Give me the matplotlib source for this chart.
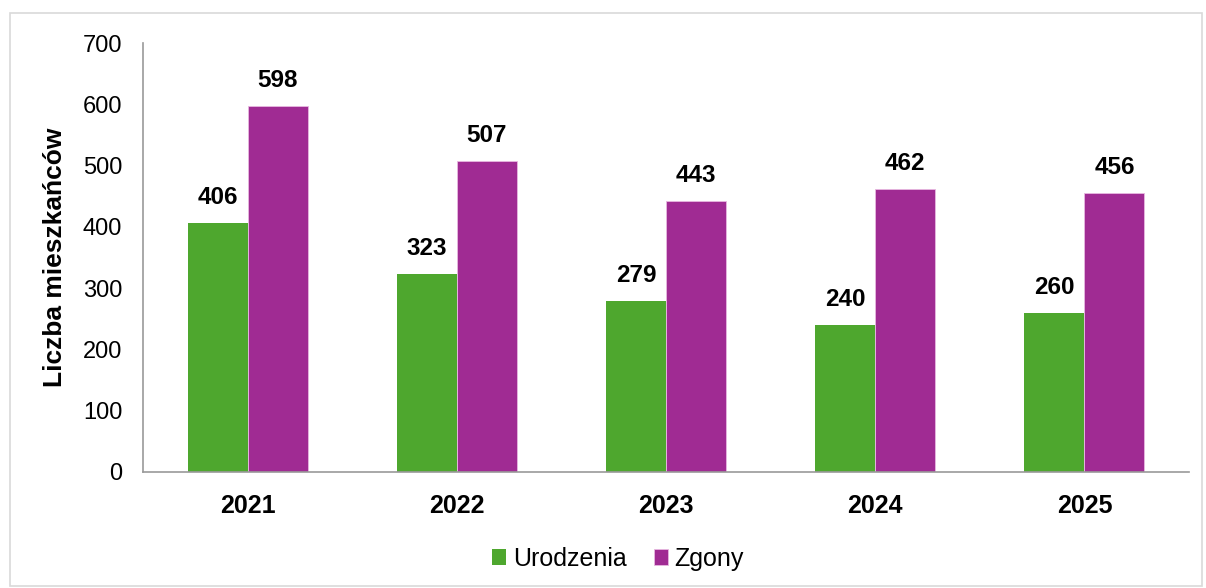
import numpy as np
import matplotlib.pyplot as plt
from matplotlib.patches import Rectangle

plt.rcParams['font.family'] = ['Liberation Sans', 'DejaVu Sans']

years = ['2021', '2022', '2023', '2024', '2025']
urodzenia = [406, 323, 279, 240, 260]
zgony = [598, 507, 443, 462, 456]

green = '#4EA72E'
purple = '#A02B93'

fig = plt.figure(figsize=(12.06, 5.88), dpi=100)
ax = fig.add_axes([143/1206, 1-472/588, 1046/1206, 429/588])

x = np.arange(len(years))
w = 0.287
b1 = ax.bar(x - w/2, urodzenia, w, color=green, label='Urodzenia')
b2 = ax.bar(x + w/2, zgony, w, color=purple, edgecolor='#E8B8E0', linewidth=0.6, label='Zgony')

for bars in (b1, b2):
    for r in bars:
        ax.annotate(f'{int(r.get_height())}', (r.get_x() + r.get_width()/2, r.get_height()),
                    xytext=(0, 10), textcoords='offset points', ha='center', va='bottom',
                    fontsize=17.5, fontweight='bold')

ax.set_xlim(-0.5, 4.5)
ax.set_ylim(0, 700)
ax.set_yticks(range(0, 701, 100))
ax.set_xticks(x)
ax.set_xticklabels(years, fontsize=18, fontweight='bold')
ax.tick_params(axis='y', labelsize=17, length=0, pad=15)
ax.tick_params(axis='x', length=0, pad=16)
for s in ['top', 'right']:
    ax.spines[s].set_visible(False)
for s in ['left', 'bottom']:
    ax.spines[s].set_color('#999999')
    ax.spines[s].set_linewidth(1.2)
ax.set_ylabel('Liczba mieszkańców', fontsize=19, fontweight='bold', labelpad=11)

fig.legend(handles=[b1, b2], loc='center', bbox_to_anchor=(618/1206, 1-559/588), ncol=2,
           frameon=False, fontsize=18, handlelength=0.58, handleheight=0.58,
           handletextpad=0.25, columnspacing=1.1)

fig.patches.append(Rectangle((10/1206, 1-586/588), 1192/1206, 573/588, transform=fig.transFigure,
                             fill=False, edgecolor='#D9D9D9', linewidth=1.2))

fig.savefig('out.png')
